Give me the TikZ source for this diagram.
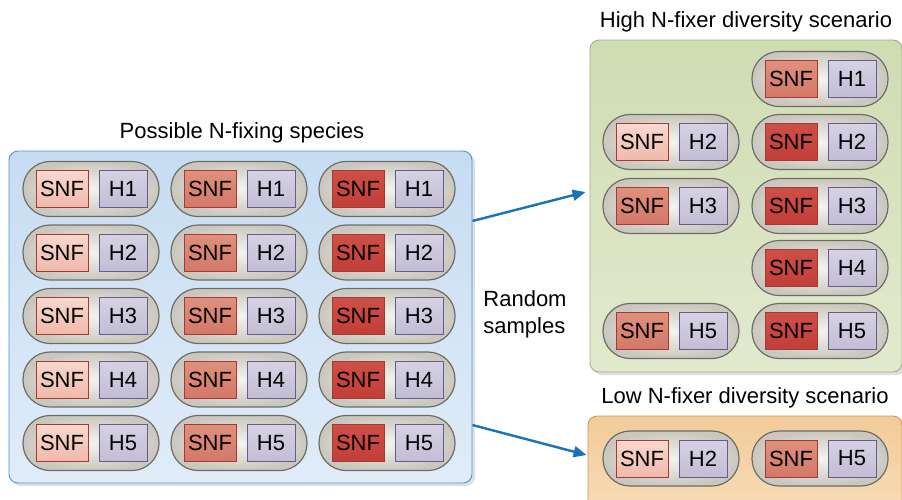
\documentclass[tikz,border=0pt]{standalone}
\usepackage{fontspec}
\setmainfont{Liberation Sans}
\usetikzlibrary{shadows,arrows.meta}
\definecolor{capborder}{HTML}{6E6C66}
\definecolor{capin}{HTML}{F4F3EE}
\definecolor{capout}{HTML}{CAC8BE}
\definecolor{snfLt}{HTML}{F8D8CF}
\definecolor{snfLb}{HTML}{F0B9AB}
\definecolor{snfMt}{HTML}{E0907E}
\definecolor{snfMb}{HTML}{D37868}
\definecolor{snfDt}{HTML}{CF5048}
\definecolor{snfDb}{HTML}{C23E38}
\definecolor{snfedge}{HTML}{A33A33}
\definecolor{hT}{HTML}{D6D2E4}
\definecolor{hB}{HTML}{C2BDD4}
\definecolor{hedge}{HTML}{675D8C}
\definecolor{blueT}{HTML}{C6DCF2}
\definecolor{blueB}{HTML}{E0ECF8}
\definecolor{blueedge}{HTML}{4B97D4}
\definecolor{greenT}{HTML}{CFDCB2}
\definecolor{greenB}{HTML}{E2EACE}
\definecolor{greenedge}{HTML}{A0AE86}
\definecolor{orT}{HTML}{F2CB98}
\definecolor{orB}{HTML}{F8DDB9}
\definecolor{oredge}{HTML}{D0955A}
\definecolor{arrowblue}{HTML}{1A73B8}
\tikzset{
  capsule/.style={draw=capborder, line width=1.2pt, rounded corners=27pt,
    minimum width=136pt, minimum height=55pt, inner sep=0pt,
    inner color=capin, outer color=capout},
  lab/.style={inner sep=0pt, line width=1pt, minimum height=37pt,
    font=\fontsize{22}{26}\selectfont, text=black},
  snfbox/.style={lab, draw=snfedge, minimum width=52pt},
  snfL/.style={snfbox, top color=snfLt, bottom color=snfLb},
  snfM/.style={snfbox, top color=snfMt, bottom color=snfMb},
  snfD/.style={snfbox, top color=snfDt, bottom color=snfDb},
  hbox/.style={lab, draw=hedge, minimum width=48pt, top color=hT, bottom color=hB},
  panel/.style={rounded corners=9pt, line width=0.9pt, inner sep=0pt,
    drop shadow={opacity=0.25, shadow xshift=3pt, shadow yshift=-3pt}},
  title/.style={font=\fontsize{22}{27}\selectfont, inner sep=0pt},
  arr/.style={draw=arrowblue, line width=2.4pt, -{Triangle[length=13pt,width=11pt]}},
}
\newcommand\pair[5]{%
  \node[capsule] (#1) at (#2,#3) {};
  \node[#4] (#1s) at (#2-29,#3) {SNF};
  \node[hbox] (#1h) at (#2+32,#3) {#5};}
\begin{document}
\begin{tikzpicture}[x=1pt,y=-1pt]
\useasboundingbox (0,0) rectangle (902,499);
\clip (0,0) rectangle (902,499);
% panels
\node[panel, draw=blueedge, top color=blueT, bottom color=blueB,
  minimum width=463pt, minimum height=332pt] (L) at (240.5,317) {};
\node[panel, draw=greenedge, top color=greenT, bottom color=greenB,
  minimum width=312pt, minimum height=332pt] (G) at (746,206) {};
\node[panel, draw=oredge, top color=orT, bottom color=orB,
  minimum width=314pt, minimum height=100pt] (O) at (745,466) {};
% titles
\node[title] (tL) at (242,133) {Possible N-fixing species};
\node[title] (tG) at (746,22) {High N-fixer diversity scenario};
\node[title] (tO) at (745,398) {Low N-fixer diversity scenario};
\node[title, align=left] (rs) at (525,314) {Random\\samples};
% left grid
\foreach \r/\y in {1/189,2/252.5,3/316,4/379.5,5/443}{
  \pair{a\r}{91}{\y}{snfL}{H\r}
  \pair{b\r}{239}{\y}{snfM}{H\r}
  \pair{c\r}{387}{\y}{snfD}{H\r}
}
% high diversity
\pair{g1}{820}{79}{snfM}{H1}
\pair{g2}{820}{142}{snfD}{H2}
\pair{g3}{820}{206}{snfD}{H3}
\pair{g4}{820}{268}{snfD}{H4}
\pair{g5}{820}{331}{snfD}{H5}
\pair{f2}{671}{142}{snfL}{H2}
\pair{f3}{671}{206}{snfM}{H3}
\pair{f5}{671}{331}{snfM}{H5}
% low diversity
\pair{o1}{671}{458.5}{snfL}{H2}
\pair{o2}{820}{458.5}{snfM}{H5}
% arrows
\draw[arr] ([yshift=96pt]L.east) -- ([xshift=-4pt,yshift=14pt]G.west);
\draw[arr] ([yshift=-108pt]L.east) -- ([xshift=-1pt,yshift=11pt]O.west);
\end{tikzpicture}
\end{document}
